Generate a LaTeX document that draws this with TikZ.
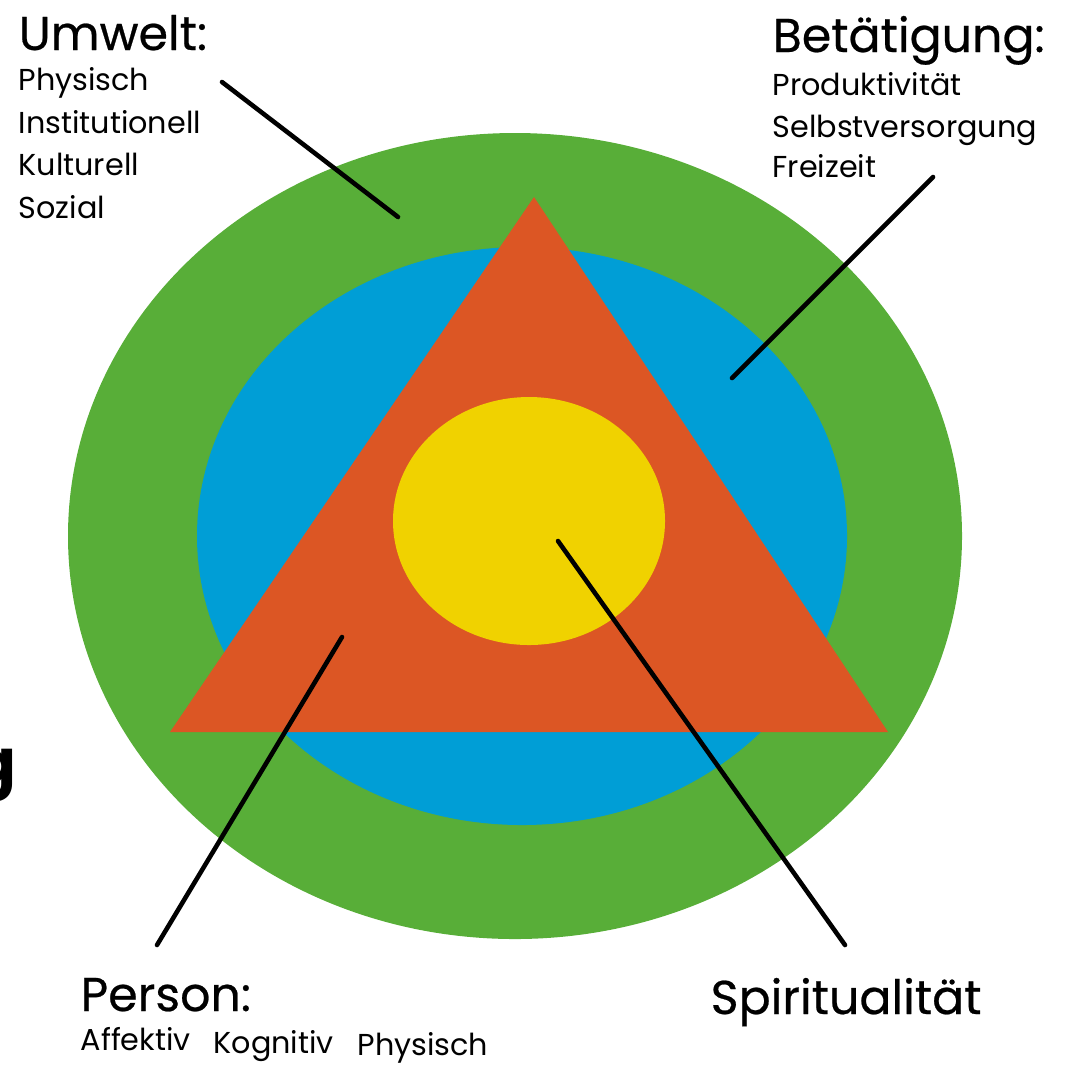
\documentclass[tikz,border=0pt]{standalone}
\usepackage{fontspec}
\setmainfont{Poppins}
\newfontfamily\titelschrift{Poppins}[FakeBold=0.5]
\definecolor{umweltgruen}{RGB}{88,174,56}
\definecolor{betblau}{RGB}{0,158,214}
\definecolor{personrot}{RGB}{220,86,36}
\definecolor{spirigelb}{RGB}{240,210,0}

\begin{document}
\begin{tikzpicture}[x=0.01cm, y=-0.01cm,
    titel/.style={anchor=base west, inner sep=0pt, font=\titelschrift\fontsize{13.5}{16}\selectfont},
    eintrag/.style={anchor=base west, inner sep=0pt, font=\fontsize{8.6}{10}\selectfont},
    zeiger/.style={line width=1.3pt, line cap=round}
]
    \useasboundingbox (0,0) rectangle (1077,1066);

    % Ringe und Dreieck
    \fill[umweltgruen] (515,536) ellipse [x radius=447, y radius=403];
    \fill[betblau] (522,536) ellipse [x radius=325, y radius=289];
    \fill[personrot] (534,197) -- (888,732) -- (170,732) -- cycle;
    \fill[spirigelb] (529,521) ellipse [x radius=136, y radius=124];

    % Beschriftungen
    \node[titel] (umwelt) at (18,50) {Umwelt:};
    \node[eintrag] (uphys) at (18,90) {Physisch};
    \node[eintrag] (uinst) at (18,133) {Institutionell};
    \node[eintrag] (ukult) at (18,175) {Kulturell};
    \node[eintrag] (usoz) at (18,218) {Sozial};

    \node[titel] (betaetigung) at (772,52) {Betätigung:};
    \node[eintrag] (bprod) at (772,95) {Produktivität};
    \node[eintrag] (bselbst) at (772,137) {Selbstversorgung};
    \node[eintrag] (bfrei) at (772,177) {Freizeit};

    \node[titel] (person) at (80,1011) {Person:};
    \node[eintrag] (paff) at (80,1050) {Affektiv};
    \node[eintrag] (pkog) at (213,1053) {Kognitiv};
    \node[eintrag] (pphys) at (357,1055) {Physisch};

    \node[titel] (spiri) at (710,1014) {Spiritualität};

    % Rest eines abgeschnittenen Wortes am linken Rand
    \node[anchor=base east, inner sep=0pt, font=\bfseries\fontsize{18}{20}\selectfont] (rest) at (17,784) {g};

    % Zeiger
    \coordinate (zu1) at (222,82);   \coordinate (zu2) at (398,217);
    \coordinate (zb1) at (933,177);  \coordinate (zb2) at (732,378);
    \coordinate (zp1) at (157,945);  \coordinate (zp2) at (342,637);
    \coordinate (zs1) at (845,945);  \coordinate (zs2) at (558,541);
    \draw[zeiger] (zu1) -- (zu2);
    \draw[zeiger] (zb1) -- (zb2);
    \draw[zeiger] (zp1) -- (zp2);
    \draw[zeiger] (zs1) -- (zs2);
\end{tikzpicture}
\end{document}
